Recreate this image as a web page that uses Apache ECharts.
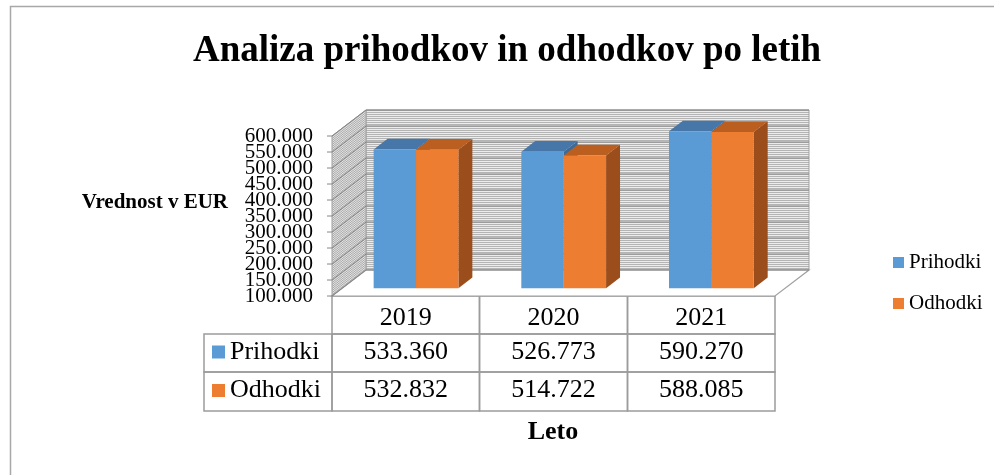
<!DOCTYPE html>
<html>
<head>
<meta charset="utf-8">
<script src="https://cdn.jsdelivr.net/npm/echarts@6/dist/echarts.min.js"></script>
<style>
  html, body { margin: 0; padding: 0; background: #fff; }
  #main { width: 994px; height: 475px; }
</style>
</head>
<body>
<div id="main"></div>
<script>
// podatki
var years = ['2019', '2020', '2021'];
var seriesNames = ['Prihodki', 'Odhodki'];
var prihodki = [533360, 526773, 590270];
var odhodki = [532832, 514722, 588085];
var yTicks = [100000, 150000, 200000, 250000, 300000, 350000, 400000, 450000, 500000, 550000, 600000];

var SERIF = '"Liberation Serif", "Times New Roman", serif';
// oblique depth vector of the 3d box
var DX = 34, DY = -26;
var Z0 = 0.3, Z1 = 0.71;
var BAR_FRAC = 0.287;

var colors = {
	Prihodki: { front: '#5b9bd5', top: '#4677a8', side: '#3e6a96' },
	Odhodki: { front: '#ed7d31', top: '#bb5f20', side: '#9b4d1b' }
};

function fmt(v) {
	return String(Math.round(v)).replace(/\B(?=(\d{3})+(?!\d))/g, '.');
}

// hatch patterns for the walls
function backPattern() {
	var c = document.createElement('canvas');
	c.width = 4; c.height = 2;
	var ctx = c.getContext('2d');
	ctx.fillStyle = '#ececec'; ctx.fillRect(0, 0, 4, 2);
	ctx.fillStyle = '#b4b4b4'; ctx.fillRect(0, 0, 4, 1);
	return c;
}
function sidePattern() {
	var c = document.createElement('canvas');
	c.width = 34; c.height = 26;
	var ctx = c.getContext('2d');
	ctx.fillStyle = '#e6e6e6'; ctx.fillRect(0, 0, 34, 26);
	ctx.strokeStyle = '#a8a8a8'; ctx.lineWidth = 1;
	for (var k = -2; k <= 56; k += 2) {
		ctx.beginPath();
		ctx.moveTo(0, k + 0.5);
		ctx.lineTo(34, k - 26 + 0.5);
		ctx.stroke();
	}
	return c;
}
var backImg = backPattern();
var sideImg = sidePattern();

function renderBox(params, api) {
	var yMin = yTicks[0], yMax = yTicks[yTicks.length - 1];
	var band = api.size([1, 0])[0];
	var L = api.coord([0, yMin])[0] - band / 2;
	var R = api.coord([years.length - 1, yMin])[0] + band / 2;
	var B = api.coord([0, yMin])[1];
	var T = api.coord([0, yMax])[1];
	var children = [];
	children.push({
		type: 'polygon',
		shape: { points: [[L + DX, T + DY], [R + DX, T + DY], [R + DX, B + DY], [L + DX, B + DY]] },
		style: { fill: { image: backImg, repeat: 'repeat' }, stroke: '#a0a0a0', lineWidth: 1 }
	});
	children.push({
		type: 'polygon',
		shape: { points: [[L, T], [L + DX, T + DY], [L + DX, B + DY], [L, B]] },
		style: { fill: { image: sideImg, repeat: 'repeat' }, stroke: '#a0a0a0', lineWidth: 1 }
	});
	children.push({
		type: 'polygon',
		shape: { points: [[L, B], [R, B], [R + DX, B + DY], [L + DX, B + DY]] },
		style: { fill: '#ffffff', stroke: '#a0a0a0', lineWidth: 1.2 }
	});
	yTicks.forEach(function (v) {
		var y = api.coord([0, v])[1];
		children.push({
			type: 'polyline',
			shape: { points: [[L, y], [L + DX, y + DY], [R + DX, y + DY]] },
			style: { fill: null, stroke: '#858585', lineWidth: 1 }
		});
		// tick + label on the front edge (the axis hides overlapping labels itself)
		children.push({
			type: 'line',
			shape: { x1: L - 5, y1: y, x2: L, y2: y },
			style: { stroke: '#868686', lineWidth: 1 }
		});
		children.push({
			type: 'text',
			x: L - 19, y: y,
			style: { text: fmt(v), font: '21px ' + SERIF, fill: '#000', align: 'right', verticalAlign: 'middle' }
		});
	});
	return { type: 'group', children: children };
}

function makeBar(name, sideIdx) {
	var col = colors[name];
	return function (params, api) {
		var idx = api.value(0);
		var v = api.value(1);
		var band = api.size([1, 0])[0];
		var w = band * BAR_FRAC;
		var c = api.coord([idx, v]);
		var base = api.coord([idx, yTicks[0]]);
		var x0 = c[0] + Z0 * DX + (sideIdx === 0 ? -w : 0);
		var x1 = x0 + w;
		var yTop = c[1] + Z0 * DY;
		var yBot = base[1] + Z0 * DY;
		var ddx = (Z1 - Z0) * DX, ddy = (Z1 - Z0) * DY;
		return {
			type: 'group',
			children: [
				{ type: 'polygon', shape: { points: [[x1, yTop], [x1 + ddx, yTop + ddy], [x1 + ddx, yBot + ddy], [x1, yBot]] }, style: { fill: col.side } },
				{ type: 'polygon', shape: { points: [[x0, yTop], [x1, yTop], [x1 + ddx, yTop + ddy], [x0 + ddx, yTop + ddy]] }, style: { fill: col.top } },
				{ type: 'rect', shape: { x: x0, y: yTop, width: w, height: yBot - yTop }, style: { fill: col.front } }
			]
		};
	};
}

// data table under the chart
function buildTable() {
	var colX = [332, 479.5, 627.5, 775];
	var rowY = [296, 334, 372, 411];
	var labelLeft = 204;
	var line = { fill: null, stroke: '#9c9c9c', lineWidth: 1.5 };
	var font = '26px ' + SERIF;
	var els = [];
	years.forEach(function (yr, j) {
		els.push({ type: 'rect', shape: { x: colX[j], y: rowY[0], width: colX[j + 1] - colX[j], height: rowY[1] - rowY[0] }, style: line });
		els.push({ type: 'text', x: (colX[j] + colX[j + 1]) / 2, y: 318, style: { text: yr, font: font, fill: '#000', align: 'center', verticalAlign: 'middle' } });
	});
	[prihodki, odhodki].forEach(function (vals, r) {
		var y0 = rowY[r + 1], y1 = rowY[r + 2];
		var cy = r === 0 ? 352 : 390.5;
		els.push({ type: 'rect', shape: { x: labelLeft, y: y0, width: colX[0] - labelLeft, height: y1 - y0 }, style: line });
		els.push({ type: 'rect', shape: { x: 212, y: cy - 6.5, width: 13, height: 13 }, style: { fill: colors[seriesNames[r]].front } });
		els.push({ type: 'text', x: 230, y: cy, style: { text: seriesNames[r], font: font, fill: '#000', align: 'left', verticalAlign: 'middle' } });
		vals.forEach(function (v, j) {
			els.push({ type: 'rect', shape: { x: colX[j], y: y0, width: colX[j + 1] - colX[j], height: y1 - y0 }, style: line });
			els.push({ type: 'text', x: (colX[j] + colX[j + 1]) / 2, y: cy, style: { text: fmt(v), font: font, fill: '#000', align: 'center', verticalAlign: 'middle' } });
		});
	});
	return els;
}

var myChart = echarts.init(document.getElementById('main'));
var graphics = [
	{ type: 'rect', shape: { x: 10.5, y: 6.5, width: 1000, height: 500 }, style: { fill: null, stroke: '#a8a8a8', lineWidth: 1.5 } },
	{ type: 'text', x: 507, y: 51, style: { text: 'Analiza prihodkov in odhodkov po letih', font: 'bold 37px ' + SERIF, fill: '#000', align: 'center', verticalAlign: 'middle' } },
	{ type: 'text', x: 228, y: 203, style: { text: 'Vrednost v EUR', font: 'bold 21px ' + SERIF, fill: '#000', align: 'right', verticalAlign: 'middle' } },
	{ type: 'text', x: 553, y: 432, style: { text: 'Leto', font: 'bold 26px ' + SERIF, fill: '#000', align: 'center', verticalAlign: 'middle' } }
].concat(buildTable());

myChart.setOption({
	animation: false,
	graphic: graphics,
	legend: {
		orient: 'vertical',
		left: 888,
		top: 247,
		itemWidth: 11,
		itemHeight: 11,
		itemGap: 20,
		icon: 'rect',
		data: seriesNames,
		textStyle: { fontFamily: SERIF, fontSize: 21, color: '#000' }
	},
	grid: { left: 332, top: 136, width: 443, height: 160 },
	xAxis: {
		type: 'category',
		data: years,
		show: false
	},
	yAxis: {
		type: 'value',
		min: yTicks[0],
		max: yTicks[yTicks.length - 1],
		interval: 50000,
		splitLine: { show: false },
		axisLine: { show: true, lineStyle: { color: '#868686' } },
		axisTick: { show: false },
		axisLabel: { show: false }
	},
	series: [
		{ type: 'custom', name: 'box', data: [[0, yTicks[0]]], renderItem: renderBox, clip: false, silent: true },
		{ type: 'custom', name: 'Prihodki', data: prihodki.map(function (v, i) { return [i, v]; }), renderItem: makeBar('Prihodki', 0), itemStyle: { color: colors.Prihodki.front }, clip: false },
		{ type: 'custom', name: 'Odhodki', data: odhodki.map(function (v, i) { return [i, v]; }), renderItem: makeBar('Odhodki', 1), itemStyle: { color: colors.Odhodki.front }, clip: false }
	]
});
</script>
</body>
</html>
